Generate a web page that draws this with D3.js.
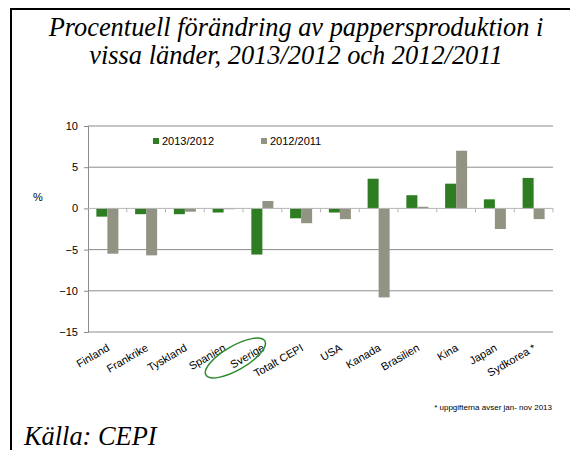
<!DOCTYPE html>
<html><head><meta charset="utf-8"><script src="https://cdn.jsdelivr.net/npm/d3@7"></script>
<style>
  body { margin: 0; overflow: hidden; }
  #wrap { position: relative; width: 570px; height: 450px; }
  .serif { position: absolute; white-space: nowrap; font-family: "Liberation Serif", "Times New Roman", serif; font-style: italic; color: #000; line-height: 1; }
</style>
</head>
<body>
<div id="wrap"></div>
<script>
var categories = ['Finland','Frankrike','Tyskland','Spanien','Sverige','Totalt CEPI','USA','Kanada','Brasilien','Kina','Japan','Sydkorea *'];
var seriesNames = ['2013/2012','2012/2011'];
var values2013 = [-1.0,-0.7,-0.7,-0.5,-5.6,-1.2,-0.5,3.6,1.6,3.0,1.1,3.7];
var values2012 = [-5.5,-5.7,-0.4,-0.1,0.9,-1.8,-1.3,-10.8,0.2,7.0,-2.5,-1.3];
var yTicks = [-15,-10,-5,0,5,10];
var titleLines = ['Procentuell förändring av pappersproduktion i','vissa länder, 2013/2012 och 2012/2011'];
var colors = ['#2e7d22','#939383'];

var width = 570, height = 450;
var wrap = d3.select('#wrap');
var svg = wrap.append('svg')
			.attr('width', width)
			.attr('height', height)
			.style('position','absolute').style('left','0px').style('top','0px');

// frame
svg.append('path')
	.attr('d','M11,450V9H570')
	.attr('fill','none')
	.attr('stroke','#000')
	.attr('stroke-width',2);

// title and source as html text, baseline placed by font metrics
var titleDivs = wrap.selectAll('.ttl')
	.data(titleLines)
	.join('div')
	.attr('class','serif ttl')
	.style('font-size','24px')
	.text(d => d);
var w0 = titleDivs.node().getBoundingClientRect().width;
var titleSize = w0 > 0 ? Math.max(24, Math.min(30, 24*495/w0)) : 28;
titleDivs.style('font-size', titleSize + 'px')
	.style('top',(d,i) => (36 + i*28 - 0.8375*titleSize) + 'px')
	.style('left',function() { return (296 - this.getBoundingClientRect().width/2) + 'px'; });

wrap.append('div')
	.attr('class','serif')
	.style('font-size', titleSize + 'px')
	.style('left','24px')
	.style('top',(445 - 0.8375*titleSize) + 'px')
	.text('Källa: CEPI');

var x0 = d3.scaleBand().domain(categories).range([88,553]).padding(0);
var x1 = d3.scaleBand().domain(seriesNames).range([0,x0.bandwidth()]).paddingInner(0).paddingOuter(0.76);
var y = d3.scaleLinear().domain([-15,10]).range([332,126]);

// gridlines
svg.append('g').selectAll('line')
	.data(yTicks.filter(d => d !== 0))
	.join('line')
	.attr('x1',88).attr('x2',553)
	.attr('y1',d => y(d)).attr('y2',d => y(d))
	.attr('stroke','#8c8c8c')
	.attr('stroke-width',1);

// y axis
var yAxis = svg.append('g').attr('transform','translate(88,0)')
	.call(d3.axisLeft(y).tickValues(yTicks).tickSize(4).tickPadding(6).tickFormat(d3.format('d')))
	.attr('font-family','Liberation Sans')
	.attr('font-size',11);
yAxis.select('.domain').attr('stroke','#8c8c8c');
yAxis.selectAll('.tick line').attr('stroke','#8c8c8c');
yAxis.selectAll('.tick text').attr('fill','#000');

svg.append('text')
	.attr('font-family','Liberation Sans').attr('font-size',11)
	.attr('x',33).attr('y',201)
	.text('%');

// bars
var groups = svg.append('g').selectAll('g')
	.data(categories)
	.join('g')
	.attr('transform',d => 'translate(' + x0(d) + ',0)');
groups.selectAll('rect')
	.data((d,i) => [{s:seriesNames[0], v:values2013[i]}, {s:seriesNames[1], v:values2012[i]}])
	.join('rect')
	.attr('x',d => x1(d.s))
	.attr('width',x1.bandwidth())
	.attr('y',d => y(Math.max(0,d.v)))
	.attr('height',d => Math.abs(y(d.v) - y(0)))
	.attr('fill',(d,i) => colors[i]);

// zero axis with ticks between categories
var xAxis = svg.append('g').attr('transform','translate(0,' + y(0) + ')');
xAxis.append('line')
	.attr('x1',88).attr('x2',553)
	.attr('stroke','#b4b4b4');
xAxis.selectAll('.tk')
	.data(categories.slice(1).concat(['end']))
	.join('line')
	.attr('class','tk')
	.attr('x1',d => d === 'end' ? 553 : x0(d)).attr('x2',d => d === 'end' ? 553 : x0(d))
	.attr('y1',0).attr('y2',4)
	.attr('stroke','#b4b4b4');

// category labels
svg.append('g').selectAll('text')
	.data(categories)
	.join('text')
	.attr('font-family','Liberation Sans').attr('font-size',11)
	.attr('text-anchor','end')
	.attr('transform',d => 'translate(' + (x0(d) + x0.bandwidth()/2 + 3) + ',350) rotate(-30)')
	.text(d => d);

// Sverige highlight
var sv = x0('Sverige') + x0.bandwidth()/2;
svg.append('ellipse')
	.attr('cx',sv - 27).attr('cy',358)
	.attr('rx',34).attr('ry',12)
	.attr('transform','rotate(-30,' + (sv - 27) + ',358)')
	.attr('fill','none')
	.attr('stroke','#2e8b2e')
	.attr('stroke-width',1.5);

// legend
var legend = svg.append('g').selectAll('g')
	.data(seriesNames)
	.join('g')
	.attr('transform',(d,i) => 'translate(' + (153 + i*108) + ',138)');
legend.append('rect').attr('width',6).attr('height',6).attr('fill',(d,i) => colors[i]);
legend.append('text')
	.attr('font-family','Liberation Sans').attr('font-size',11)
	.attr('x',9).attr('y',7).text(d => d);

// footnote
svg.append('text')
	.attr('font-family','Liberation Sans').attr('font-size',8)
	.attr('x',552).attr('y',410)
	.attr('text-anchor','end')
	.text('* uppgifterna avser jan- nov 2013');
</script>
</body>
</html>
